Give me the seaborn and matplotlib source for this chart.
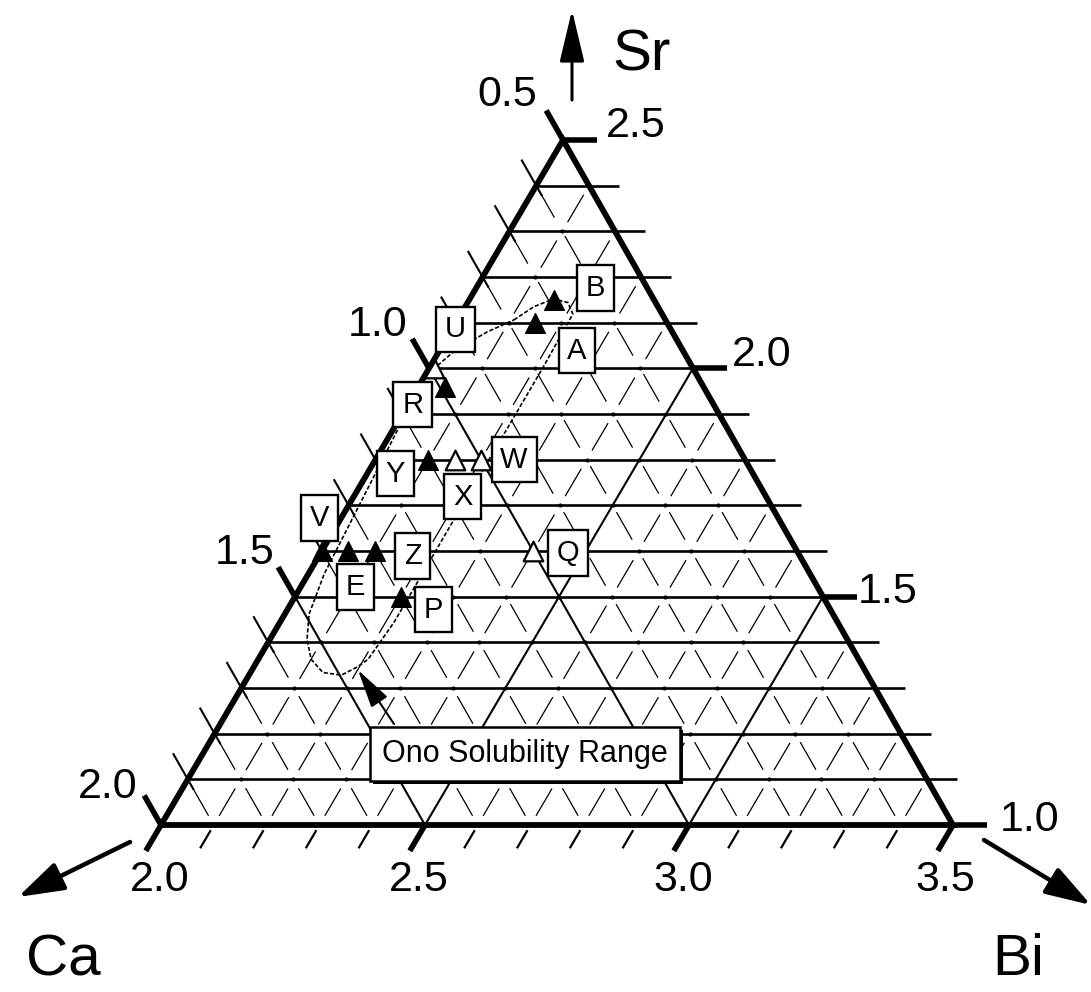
import numpy as np
import pandas as pd
import matplotlib
matplotlib.use("Agg")
import matplotlib.pyplot as plt
import matplotlib.patheffects as pe
import seaborn as sns

# ---------------------------------------------------------------------------
# Cation compositions (Sr + Ca + Bi = 5)
# ---------------------------------------------------------------------------
sample_labels = ["B", "A", "U", "R", "Y", "X", "W", "V", "E", "Z", "P", "Q"]
bi_values = [2.16, 2.15, 2.01, 2.05, 2.10, 2.15, 2.20, 2.00, 2.05, 2.10, 2.20, 2.40]
sr_values = [2.15, 2.10, 2.00, 1.96, 1.80, 1.80, 1.80, 1.60, 1.60, 1.60, 1.50, 1.60]
single_phase = [True, True, False, True, True, False, False, True, True, True, True, False]

# Outline of the Ono solubility range
ono_bi = [2.107, 2.130, 2.159, 2.190, 2.212, 2.215, 2.215, 2.216, 2.208, 2.197,
          2.175, 2.137, 2.100, 2.070, 2.046, 2.030, 2.020, 2.010, 2.000, 2.030,
          2.070, 2.107]
ono_sr = [2.106, 2.135, 2.152, 2.144, 2.119, 2.000, 1.800, 1.444, 1.363, 1.347,
          1.328, 1.334, 1.363, 1.407, 1.462, 1.550, 1.700, 1.850, 1.980, 2.040,
          2.080, 2.106]

# Axis tick labels
bi_tick_labels = ["2.0", "2.5", "3.0", "3.5"]
sr_tick_labels = ["2.5", "2.0", "1.5", "1.0"]
ca_tick_labels = ["0.5", "1.0", "1.5", "2.0"]

TOTAL = 5.0
BI_MIN, SR_MIN, CA_MIN = 2.0, 1.0, 0.5
SPAN = 1.5
STEP = 0.1

# ---------------------------------------------------------------------------
# Style
# ---------------------------------------------------------------------------
sns.set_theme(style="white")
plt.rcParams["font.family"] = ["Liberation Sans", "DejaVu Sans"]
plt.rcParams["text.color"] = "black"
plt.rcParams["lines.scale_dashes"] = False
plt.rcParams["lines.solid_capstyle"] = "butt"

W, H = 1091, 992
X0, Y0, XS, YS = 161, 825, 792, 685   # pixel frame of the triangle
SKEW = 0.5076                           # horizontal position of the apex

fig = plt.figure(figsize=(W / 100, H / 100), dpi=100)
ax = fig.add_axes([0, 0, 1, 1])
ax.axis("off")


def to_xy(bi, sr):
    bi = np.asarray(bi, float)
    sr = np.asarray(sr, float)
    y = (sr - SR_MIN) / SPAN
    return (bi - BI_MIN) / SPAN + SKEW * y, y


def at_px(xp, yp):
    return (xp - X0) / XS, (Y0 - yp) / YS


def shift(pt, dx, dy):
    """Move a point by (dx, dy) pixels, dy pointing up."""
    return pt[0] + dx / XS, pt[1] + dy / YS


def seg(p, q, **kw):
    ax.plot([p[0], q[0]], [p[1], q[1]], color="black", **kw)


def is_major(v):
    return abs(v * 2 - round(v * 2)) < 1e-6


def unit(dx, dy):
    n = np.hypot(dx, dy)
    return dx / n, dy / n


offsets = np.round(np.arange(0, 16) * STEP, 2)
sr_levels = np.round(SR_MIN + offsets, 2)
bi_levels = np.round(BI_MIN + offsets, 2)
ca_levels = np.round(CA_MIN + offsets, 2)

# direction vectors (pixels, y up)
u_left = unit((SKEW - 1) * XS, YS)      # outward along constant-Ca lines
u_down = unit(-SKEW * XS, -YS)          # outward along constant-Bi lines

# dashed pattern for the 0.1 grid: one dash centred between rows
seg_pt = np.hypot(SKEW * XS * STEP / SPAN, YS * STEP / SPAN) * 0.72
dash_on = seg_pt * 0.6
dash_off = seg_pt - dash_on
dash_style = (dash_on + dash_off / 2, (dash_on, dash_off))

# ---------------------------------------------------------------------------
# Grid
# ---------------------------------------------------------------------------
node_x, node_y = [], []
for i, sr in enumerate(sr_levels):
    left = to_xy(BI_MIN, sr)
    right = to_xy(TOTAL - CA_MIN - sr, sr)
    if 0 < i < len(sr_levels) - 1:
        seg(left, shift(right, 30, 0), lw=1.9, zorder=2)
        for bi in bi_levels:
            if bi <= TOTAL - CA_MIN - sr + 1e-9:
                nx, ny = to_xy(bi, sr)
                node_x.append(float(nx))
                node_y.append(float(ny))
    if is_major(sr):
        seg(right, shift(right, 34, 0), lw=4.0, zorder=6)

ax.scatter(node_x, node_y, s=9, color="black", zorder=3, linewidths=0)

for bi in bi_levels[1:-1]:
    p = to_xy(bi, SR_MIN)
    q = to_xy(bi, TOTAL - CA_MIN - bi)
    if is_major(bi):
        seg(p, q, lw=1.5, zorder=2)
    else:
        seg(p, q, lw=0.9, ls=dash_style, zorder=2)

for ca in ca_levels[1:-1]:
    p = to_xy(TOTAL - ca - SR_MIN, SR_MIN)
    q = to_xy(BI_MIN, TOTAL - BI_MIN - ca)
    if is_major(ca):
        seg(p, q, lw=1.5, zorder=2)
    else:
        seg(p, q, lw=0.9, ls=dash_style, zorder=2)

# triangle frame
cx, cy = to_xy([BI_MIN, BI_MIN + SPAN, BI_MIN, BI_MIN],
               [SR_MIN, SR_MIN, SR_MIN + SPAN, SR_MIN])
ax.plot(cx, cy, color="black", lw=4.2, solid_joinstyle="miter", zorder=6)

# Ca ticks on the left edge
for ca in ca_levels:
    e = to_xy(BI_MIN, TOTAL - BI_MIN - ca)
    if is_major(ca):
        seg(e, shift(e, 34 * u_left[0], 34 * u_left[1]), lw=4.0, zorder=6)
    else:
        seg(shift(e, -12 * u_left[0], -12 * u_left[1]),
            shift(e, 30 * u_left[0], 30 * u_left[1]), lw=1.5, zorder=6)

# Bi ticks under the base
for bi in bi_levels:
    e = to_xy(bi, SR_MIN)
    if is_major(bi):
        seg(e, shift(e, 30 * u_down[0], 30 * u_down[1]), lw=4.0, zorder=6)
    else:
        seg(shift(e, 6 * u_down[0], 6 * u_down[1]),
            shift(e, 27 * u_down[0], 27 * u_down[1]), lw=1.6, zorder=6)

# ---------------------------------------------------------------------------
# Solubility range and samples
# ---------------------------------------------------------------------------
ox, oy = to_xy(ono_bi, ono_sr)
sns.lineplot(x=ox, y=oy, sort=False, estimator=None, color="black", lw=1.2,
             linestyle=(0, (3, 1.5)), ax=ax, zorder=4)

df = pd.DataFrame({"label": sample_labels, "bi": bi_values, "sr": sr_values,
                   "filled": single_phase})
df["x"], df["y"] = to_xy(df["bi"], df["sr"])

sns.scatterplot(data=df[df["filled"]], x="x", y="y", marker="^", s=200,
                color="black", edgecolor="black", linewidth=1, ax=ax,
                zorder=5, legend=False)
sns.scatterplot(data=df[~df["filled"]], x="x", y="y", marker="^", s=200,
                color="white", edgecolor="black", linewidth=1.6, ax=ax,
                zorder=5, legend=False)

label_offsets = {  # pixels from the marker to the centre of its tag (y down)
    "B": (42, -12), "A": (42, 28), "U": (21, -39), "R": (-32, 18),
    "Y": (-33, 14), "X": (8, 37), "W": (33, 0), "V": (-2, -33),
    "E": (7, 36), "Z": (38, 5), "P": (33, 13), "Q": (35, 2),
}
for _, row in df.iterrows():
    dx, dy = label_offsets[row["label"]]
    ax.annotate(row["label"], xy=(row["x"], row["y"]), xytext=(dx, -dy),
                textcoords="offset pixels", ha="center", va="center",
                fontsize=21, zorder=7,
                bbox=dict(boxstyle="square,pad=0.3", fc="white", ec="black",
                          lw=1.7))

ono = ax.text(*at_px(525, 754), "Ono Solubility Range", ha="center",
              va="center", fontsize=22, zorder=8,
              bbox=dict(boxstyle="square,pad=0.4", fc="white", ec="black",
                        lw=1.8))
ono.get_bbox_patch().set_path_effects(
    [pe.SimplePatchShadow(offset=(2, -2), shadow_rgbFace="black", alpha=1.0),
     pe.Normal()])
ax.annotate("", xy=at_px(358, 670), xytext=at_px(394, 724),
            arrowprops=dict(arrowstyle="-|>,head_length=1.2,head_width=0.3",
                            mutation_scale=20, lw=1.5, color="black",
                            shrinkA=0, shrinkB=0), zorder=8)

# ---------------------------------------------------------------------------
# Axis labels
# ---------------------------------------------------------------------------
tick_font = 31
for txt, (xp, yp) in zip(ca_tick_labels, [(507, 95), (378, 325), (245, 553), (108, 787)]):
    ax.text(*at_px(xp, yp), txt, ha="center", va="center", fontsize=tick_font)
for txt, (xp, yp) in zip(sr_tick_labels, [(636, 126), (762, 355), (888, 592), (1030, 820)]):
    ax.text(*at_px(xp, yp), txt, ha="center", va="center", fontsize=tick_font)
for txt, (xp, yp) in zip(bi_tick_labels, [(160, 880), (419, 880), (683, 880), (945, 880)]):
    ax.text(*at_px(xp, yp), txt, ha="center", va="center", fontsize=tick_font)

ax.text(*at_px(642, 55), "Sr", ha="center", va="center", fontsize=42)
ax.text(*at_px(63, 960), "Ca", ha="center", va="center", fontsize=42)
ax.text(*at_px(1018, 960), "Bi", ha="center", va="center", fontsize=42)

arrow_kw = dict(color="black", shrinkA=0, shrinkB=0)
ax.annotate("", xy=at_px(572, 10), xytext=at_px(572, 100),
            arrowprops=dict(arrowstyle="-|>,head_length=1.6,head_width=0.38",
                            mutation_scale=20, lw=2.2, **arrow_kw))
ax.annotate("", xy=at_px(18, 897), xytext=at_px(130, 842),
            arrowprops=dict(arrowstyle="-|>,head_length=1.4,head_width=0.45",
                            mutation_scale=20, lw=3.2, **arrow_kw))
ax.annotate("", xy=at_px(1091, 905), xytext=at_px(984, 840),
            arrowprops=dict(arrowstyle="-|>,head_length=1.4,head_width=0.45",
                            mutation_scale=20, lw=3.2, **arrow_kw))

ax.set_xlim(-X0 / XS, (W - X0) / XS)
ax.set_ylim(-(H - Y0) / YS, Y0 / YS)

fig.savefig("out.png", dpi=100, facecolor="white")
